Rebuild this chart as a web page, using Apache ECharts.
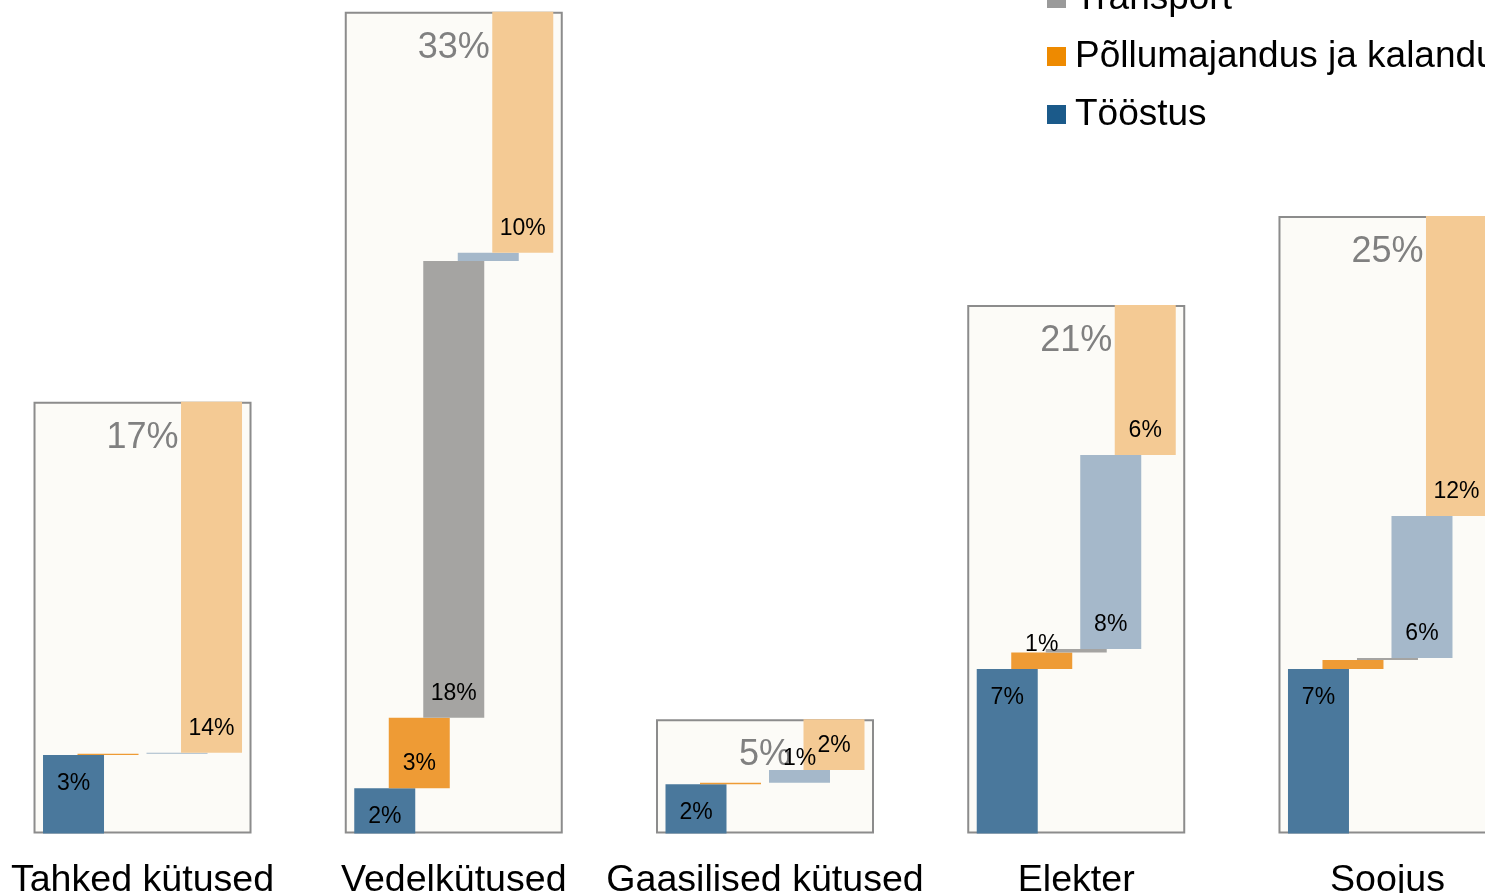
<!DOCTYPE html>
<html>
<head>
<meta charset="utf-8">
<script src="https://cdn.jsdelivr.net/npm/echarts@6/dist/echarts.min.js"></script>
<style>
html,body{margin:0;padding:0;background:#ffffff;}
#chart{width:1485px;height:893px;}
</style>
</head>
<body>
<div id="chart"></div>
<script>
// Categories (energy carriers)
var categories = ['Tahked kütused', 'Vedelkütused', 'Gaasilised kütused', 'Elekter', 'Soojus'];
// Sector series names (legend order bottom-up: Tööstus first)
var seriesNames = ['Tööstus', 'Põllumajandus ja kalandus', 'Transport', 'Kodumajapidamised', 'Teenindus'];
// Values in %
var toostus      = [3.14, 1.81, 1.97, 6.58, 6.58];
var pollumaj     = [0.05, 2.82, 0.06, 0.66, 0.36];
var transport    = [0.00, 18.27, 0.00, 0.14, 0.08];
var kodumaj      = [0.04, 0.33, 0.51, 7.76, 5.68];
var teenindus    = [14.04, 9.64, 2.03, 6.00, 12.00];

var seriesValues = [toostus, pollumaj, transport, kodumaj, teenindus];
var barColors = ['#4a789c', '#ee9b35', '#a5a4a2', '#a5b8ca', '#f4ca94'];
var legendColors = ['#1b5a8a', '#ee8a00', '#9a9a9a', '#a5b8ca', '#f4ca94'];

// totals derived from series
var totals = categories.map(function (c, i) {
  return seriesValues.reduce(function (s, arr) { return s + arr[i]; }, 0);
});

var FONT = 'Liberation Sans, Arial, sans-serif';

function pctFmt(p) {
  var r = Math.round(p.value);
  return r >= 1 ? r + '%' : '';
}

var series = [];
// background total boxes
series.push({
  name: 'Kokku',
  type: 'bar',
  xAxisIndex: 0,
  yAxisIndex: 0,
  barWidth: 218,
  data: totals,
  z: 1,
  silent: true,
  itemStyle: { color: '#fcfbf7', borderColor: '#8c8c8c', borderWidth: 2 },
  label: {
    show: true,
    position: 'insideTop',
    distance: 18,
    formatter: pctFmt,
    fontFamily: FONT,
    fontSize: 36,
    color: '#808080'
  }
});

// waterfall bars: invisible base + visible value, each in own stack
var cumulative = categories.map(function () { return 0; });
seriesValues.forEach(function (vals, k) {
  var base = cumulative.slice();
  series.push({
    name: '_base' + k,
    type: 'bar',
    xAxisIndex: 1,
    yAxisIndex: 0,
    stack: 's' + k,
    barWidth: 61,
    barGap: '-43.44%',
    data: base,
    silent: true,
    z: 2,
    itemStyle: { color: 'rgba(0,0,0,0)' },
    label: { show: false },
    emphasis: { disabled: true }
  });
  series.push({
    name: seriesNames[k],
    type: 'bar',
    xAxisIndex: 1,
    yAxisIndex: 0,
    stack: 's' + k,
    barWidth: 61,
    barGap: '-43.44%',
    data: vals,
    z: 3,
    itemStyle: { color: barColors[k] },
    label: {
      show: true,
      position: k === 0 ? 'insideTop' : 'insideBottom',
      distance: k === 0 ? 17 : 13,
      formatter: pctFmt,
      fontFamily: FONT,
      fontSize: 23,
      color: '#000000'
    }
  });
  cumulative = cumulative.map(function (v, i) { return v + vals[i]; });
});

var chart = echarts.init(document.getElementById('chart'), null, { renderer: 'canvas' });
chart.setOption({
  animation: false,
  backgroundColor: '#ffffff',
  grid: {
    left: -13.1,
    right: -58.1,
    top: 0,
    bottom: 59.5,
    containLabel: false,
    outerBoundsMode: 'none'
  },
  legend: {
    orient: 'vertical',
    left: 1042,
    top: -141,
    itemWidth: 19,
    itemHeight: 19,
    itemGap: 21,
    icon: 'rect',
    textStyle: { fontFamily: FONT, fontSize: 37, color: '#000000', lineHeight: 36, padding: [0, 0, 0, 4] },
    data: seriesNames.slice().reverse().map(function (n) {
      var idx = seriesNames.indexOf(n);
      return { name: n, itemStyle: { color: legendColors[idx] } };
    })
  },
  xAxis: [
    {
      type: 'category',
      data: categories,
      axisLine: { show: false },
      axisTick: { show: false },
      axisLabel: { fontFamily: FONT, fontSize: 37.6, color: '#000000', margin: 28, interval: 0 }
    },
    {
      type: 'category',
      data: categories,
      show: false
    }
  ],
  yAxis: {
    type: 'value',
    min: 0,
    max: 33.34,
    show: false,
    splitLine: { show: false }
  },
  series: series
});
</script>
</body>
</html>
